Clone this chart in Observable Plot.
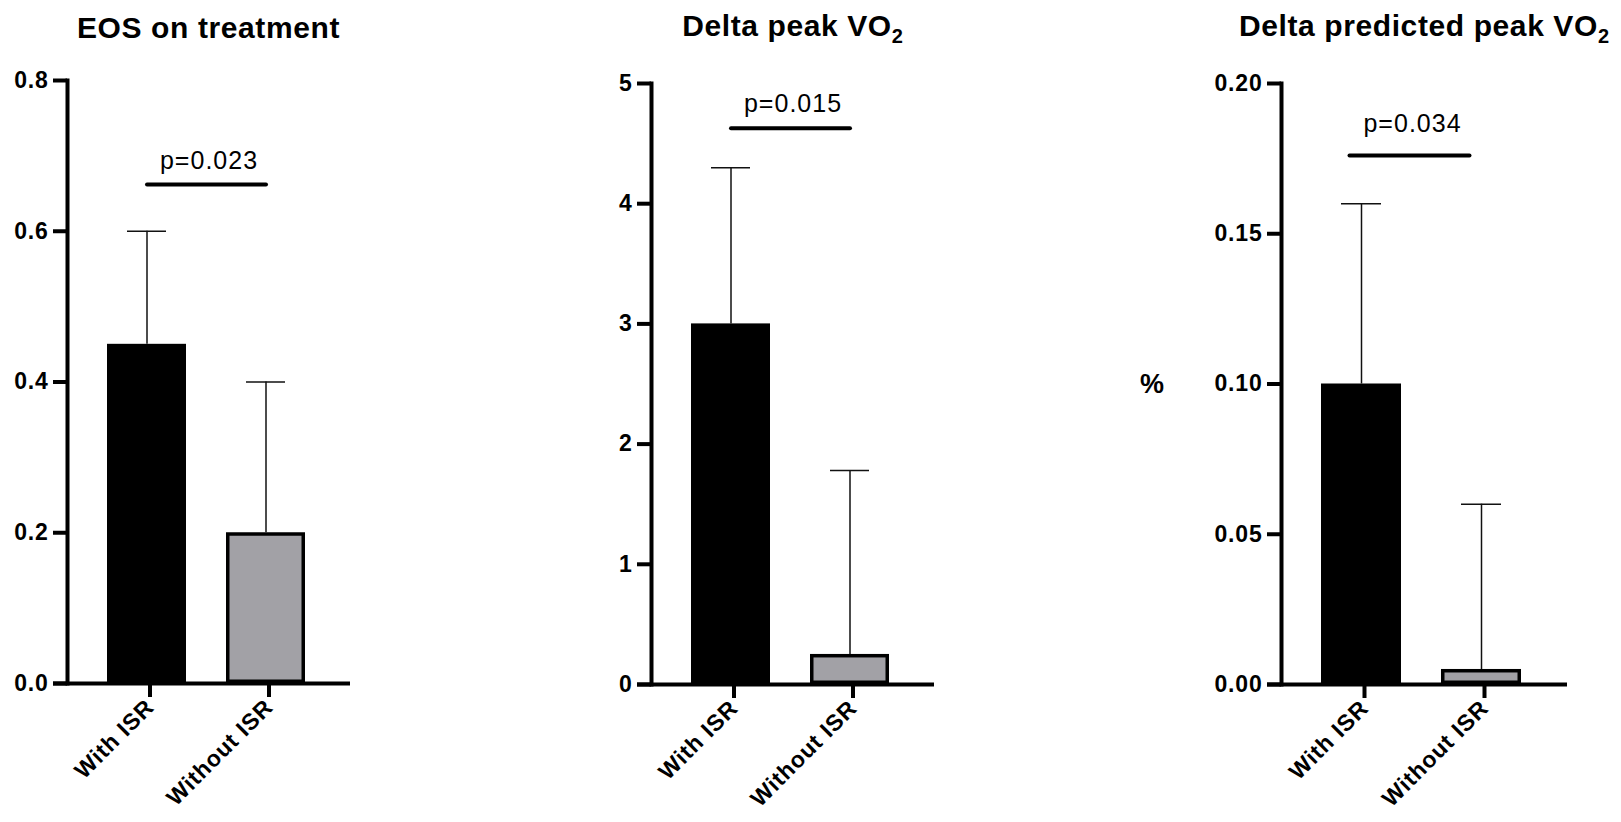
<!DOCTYPE html>
<html>
<head>
<meta charset="utf-8">
<script src="https://cdn.jsdelivr.net/npm/d3@7"></script>
<script src="https://cdn.jsdelivr.net/npm/@observablehq/plot@0.6"></script>
<style>
  body { margin: 0; background: #fff; font-family: "Liberation Sans", Arial, sans-serif; }
  #root { position: relative; width: 1621px; height: 822px; overflow: hidden; background: #fff; }
  .panel { position: absolute; top: 0; }
  .panel svg { overflow: visible; letter-spacing: 1px; }
  .title { position: absolute; font-weight: bold; font-size: 30px; letter-spacing: 0.6px;
           white-space: nowrap; transform: translateX(-50%); line-height: 1; color: #000; }
  .title sub { font-size: 20px; vertical-align: -7px; line-height: 0; letter-spacing: 0; }
</style>
</head>
<body>
<div id="root"></div>
<script>
// ---------------- data ----------------
const categories = ["With ISR", "Without ISR"];

const titleMain = ["EOS on treatment", "Delta peak VO", "Delta predicted peak VO"];
const titleSub  = ["", "2", "2"];

const eosMean  = [0.45, 0.20];
const eosUpper = [0.60, 0.40];
const eosTicks = [0, 0.2, 0.4, 0.6, 0.8];

const vo2Mean  = [3.0, 0.25];
const vo2Upper = [4.3, 1.78];
const vo2Ticks = [0, 1, 2, 3, 4, 5];

const predMean  = [0.100, 0.005];
const predUpper = [0.160, 0.060];
const predTicks = [0, 0.05, 0.10, 0.15, 0.20];

const pLabels = ["p=0.023", "p=0.015", "p=0.034"];
const pLineY  = [0.662, 4.627, 0.176];

const yAxisLabels = ["", "", "%"];

const barColors = ["#000000", "#a2a1a6"];

// ---------------- layout ----------------
const panels = [
  { mean: eosMean,  upper: eosUpper,  ticks: eosTicks,  fmt: d3.format(".1f"),
    left: 0,    width: 380, mL: 67,  mR: 30, mT: 80, mB: 139, titleTop: 13, textGap: 16, dx: 0 },
  { mean: vo2Mean,  upper: vo2Upper,  ticks: vo2Ticks,  fmt: d3.format("d"),
    left: 540,  width: 420, mL: 111, mR: 26, mT: 83, mB: 138, titleTop: 11, textGap: 16, dx: 0 },
  { mean: predMean, upper: predUpper, ticks: predTicks, fmt: d3.format(".2f"),
    left: 1080, width: 541, mL: 201, mR: 54, mT: 83, mB: 138, titleTop: 11, textGap: 24, dx: -12 }
];

const root = document.getElementById("root");
const font = "Liberation Sans, Arial, Helvetica, sans-serif";
const tickFont = 23;

panels.forEach((p, i) => {
  const data = categories.map((g, j) => ({ group: g, mean: p.mean[j], upper: p.upper[j] }));
  const sig = categories.map(g => ({ group: g, y: pLineY[i] }));
  const yMax = p.ticks[p.ticks.length - 1];

  const marks = [
    Plot.barY(data, { x: "group", y: "mean", fill: "group", stroke: "#000", strokeWidth: 3.5, inset: 1.75 }),
    Plot.ruleX(data, { x: "group", y1: "mean", y2: "upper", stroke: "#111", strokeWidth: 1.5 }),
    Plot.tickY(data, { x: "group", y: "upper", stroke: "#111", strokeWidth: 1.5, insetLeft: 20, insetRight: 20 }),
    Plot.ruleY([0], { stroke: "#000", strokeWidth: 4, insetLeft: -14 }),
    Plot.frame({ anchor: "left", stroke: "#000", strokeWidth: 4 }),
    Plot.axisY({ ticks: p.ticks, tickFormat: p.fmt, tickSize: 14, tickPadding: 5, strokeWidth: 4,
                 fontSize: tickFont, fontWeight: "bold", label: null }),
    Plot.axisX({ tickSize: 14, tickPadding: 6, tickRotate: -45, strokeWidth: 4, dx: 3,
                 fontSize: tickFont, fontWeight: "bold", label: null }),
    Plot.line(sig, { x: "group", y: "y", stroke: "#000", strokeWidth: 4, dx: p.dx }),
    Plot.text([{ label: pLabels[i], y: pLineY[i] }], { y: "y", text: "label", lineAnchor: "bottom",
                 dy: -p.textGap, dx: p.dx, fontSize: 25, fill: "#000" })
  ];
  if (yAxisLabels[i]) {
    marks.push(Plot.text([yAxisLabels[i]], { text: d => d, frameAnchor: "left", textAnchor: "middle",
                 dx: -129, fontSize: 27, fontWeight: "bold", fill: "#000" }));
  }

  const chart = Plot.plot({
    width: p.width,
    height: 822,
    marginLeft: p.mL, marginRight: p.mR, marginTop: p.mT, marginBottom: p.mB,
    x: { domain: categories, paddingInner: 1 / 3, paddingOuter: 0.35, align: 0.47, axis: null },
    y: { domain: [0, yMax], axis: null },
    color: { domain: categories, range: barColors },
    style: { fontFamily: font, color: "#000", background: "transparent" },
    marks
  });

  // axis tick labels: bold, slightly tracked
  d3.select(chart).selectAll('g[aria-label$="tick label"]')
    .style("font-size", tickFont + "px").style("font-weight", "bold").style("letter-spacing", "0.8px");

  const wrap = document.createElement("div");
  wrap.className = "panel";
  wrap.style.left = p.left + "px";
  wrap.appendChild(chart);
  root.appendChild(wrap);

  const t = document.createElement("div");
  t.className = "title";
  t.style.left = (p.left + p.mL + (p.width - p.mL - p.mR) / 2) + "px";
  t.style.top = p.titleTop + "px";
  t.textContent = titleMain[i];
  if (titleSub[i]) {
    const s = document.createElement("sub");
    s.textContent = titleSub[i];
    t.appendChild(s);
  }
  root.appendChild(t);
});
</script>
</body>
</html>
